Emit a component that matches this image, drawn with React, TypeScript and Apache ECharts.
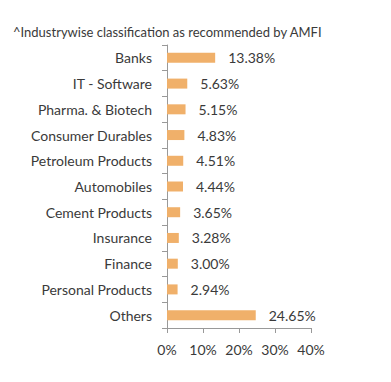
import React, { useEffect, useRef } from "react";
import * as echarts from "echarts";

const categories = [
  "Banks",
  "IT - Software",
  "Pharma. & Biotech",
  "Consumer Durables",
  "Petroleum Products",
  "Automobiles",
  "Cement Products",
  "Insurance",
  "Finance",
  "Personal Products",
  "Others",
];
const values = [13.38, 5.63, 5.15, 4.83, 4.51, 4.44, 3.65, 3.28, 3.0, 2.94, 24.65];
const titleText = "^Industrywise classification as recommended by AMFI";

export default function App() {
  const ref = useRef<HTMLDivElement>(null);
  useEffect(() => {
    document.body.style.margin = "0";
    const chart = echarts.init(ref.current!, null, { renderer: "svg" });
    chart.setOption({
      animation: false,
      title: {
        text: titleText,
        left: 8,
        top: 20,
        textStyle: { fontFamily: "Lato", fontSize: 13, fontWeight: "normal", color: "#3a3a3a" },
      },
      grid: { left: 167, right: 80, top: 45, bottom: 54, containLabel: false },
      xAxis: {
        type: "value",
        min: 0,
        max: 40,
        interval: 10,
        axisLine: { show: true, lineStyle: { color: "#999" } },
        axisTick: { show: true, length: 5, lineStyle: { color: "#999" } },
        splitLine: { show: false },
        axisLabel: {
          formatter: "{value}%",
          fontFamily: "Lato",
          fontSize: 14,
          color: "#3a3a3a",
          margin: 14,
        },
      },
      yAxis: {
        type: "category",
        data: categories,
        inverse: true,
        axisLine: { show: true, lineStyle: { color: "#999" } },
        axisTick: { show: true, length: 5, lineStyle: { color: "#999" } },
        axisLabel: { fontFamily: "Lato", fontSize: 14, color: "#3a3a3a", margin: 15 },
      },
      series: [
        {
          type: "bar",
          data: values,
          barWidth: 10,
          itemStyle: { color: "#f0b06a" },
          label: {
            show: true,
            position: "right",
            distance: 13,
            formatter: (p: any) => p.value.toFixed(2) + "%",
            fontFamily: "Lato",
            fontSize: 14,
            color: "#3a3a3a",
          },
        },
      ],
    });
    return () => chart.dispose();
  }, []);
  return <div ref={ref} style={{ width: 391, height: 382 }} />;
}
